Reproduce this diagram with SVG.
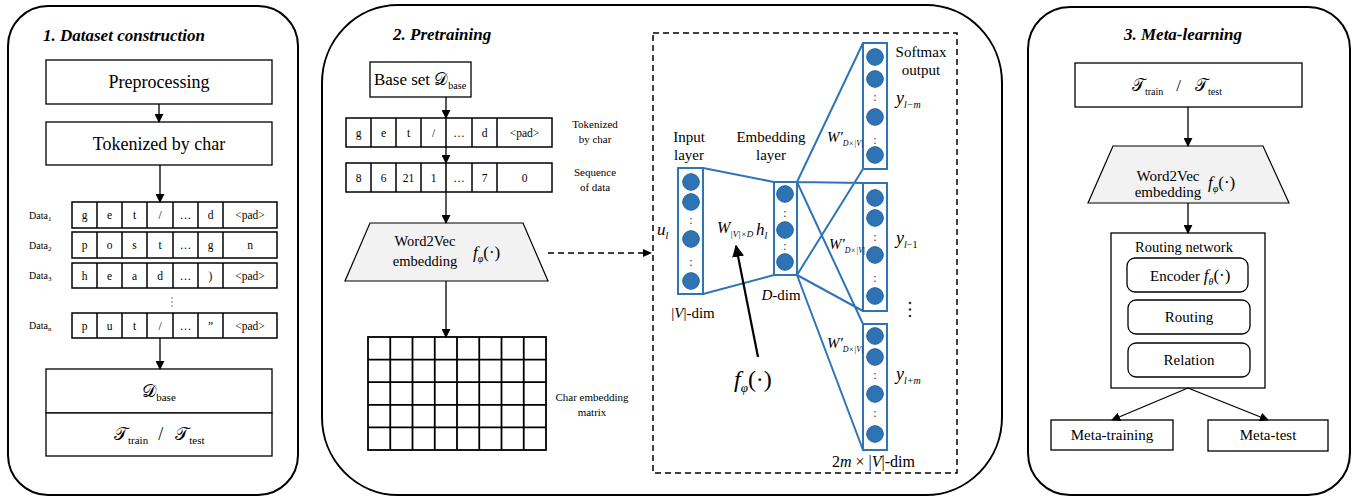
<svg xmlns="http://www.w3.org/2000/svg" width="1353" height="498" viewBox="0 0 1353 498" font-family="'Liberation Serif', 'Times New Roman', 'DejaVu Serif', serif">
<defs>
  <marker id="ah" viewBox="0 0 10 10" refX="9" refY="5" markerWidth="9" markerHeight="9" markerUnits="userSpaceOnUse" orient="auto">
    <path d="M0,0 L10,5 L0,10 z" fill="#000"/>
  </marker>
  <marker id="ahBig" viewBox="0 0 10 10" refX="9" refY="5" markerWidth="12" markerHeight="12" markerUnits="userSpaceOnUse" orient="auto">
    <path d="M0,0 L10,5 L0,10 z" fill="#000"/>
  </marker>
  <style>
    text{fill:#000}
    .panel{fill:#fff;stroke:#000;stroke-width:2}
    .box{fill:#fff;stroke:#000;stroke-width:1.3}
    .rbox{fill:#fff;stroke:#000;stroke-width:1.3}
    .trap{fill:#f2f2f2;stroke:#000;stroke-width:1.2}
    .cell{fill:#fff;stroke:#000;stroke-width:1.5}
    .sep{stroke:#000;stroke-width:1.5}
    .grid{stroke:#000;stroke-width:1.8;fill:none}
    .title{font-size:17px;font-weight:bold;font-style:italic}
    .it{font-style:italic}
    .mid{text-anchor:middle}
    .tok{font-size:11.5px;text-anchor:middle}
    .lbl{font-size:10px}
    .note{font-size:11px;text-anchor:middle}
    .nn{fill:none;stroke:#2e75b6;stroke-width:2}
    .node{fill:#2e74b5;stroke:#1f5f9a;stroke-width:1}
    .dots{font-size:12px;text-anchor:middle;fill:#333}
    .arrow{stroke:#000;stroke-width:1.3;fill:none;marker-end:url(#ah)}
    .dash{stroke:#000;stroke-width:1.5;fill:none;stroke-dasharray:6 4}
  </style>
</defs>

<!-- ===== Panel 1: dataset construction ===== -->
<g id="panel-dataset">
  <rect class="panel" x="8" y="6" width="290" height="489" rx="40" ry="40"/>
  <text class="title" x="43" y="41">1. Dataset construction</text>
</g>
<g id="preprocessing">
  <rect class="box" x="46" y="60" width="226" height="44"/>
  <text class="mid" x="159" y="88" font-size="18">Preprocessing</text>
</g>
<g id="tokenized">
  <rect class="box" x="46" y="122" width="226" height="43"/>
  <text class="mid" x="159" y="150" font-size="18">Tokenized by char</text>
</g>
<g id="data-rows">
  <g id="data1">
    <text class="lbl" x="29" y="219">Data<tspan font-size="7" dy="2">1</tspan></text>
    <rect class="cell" x="72" y="202" width="205" height="26"/>
    <path class="sep" d="M97,202V228M122,202V228M147,202V228M173,202V228M198,202V228M223,202V228"/>
    <text class="tok" y="219"><tspan x="84.5">g</tspan><tspan x="109.5">e</tspan><tspan x="134.5">t</tspan><tspan x="160">/</tspan><tspan x="185.5">…</tspan><tspan x="210.5">d</tspan><tspan x="250">&lt;pad&gt;</tspan></text>
  </g>
  <g id="data2">
    <text class="lbl" x="29" y="249">Data<tspan font-size="7" dy="2">2</tspan></text>
    <rect class="cell" x="72" y="232" width="205" height="26"/>
    <path class="sep" d="M97,232V258M122,232V258M147,232V258M173,232V258M198,232V258M223,232V258"/>
    <text class="tok" y="249"><tspan x="84.5">p</tspan><tspan x="109.5">o</tspan><tspan x="134.5">s</tspan><tspan x="160">t</tspan><tspan x="185.5">…</tspan><tspan x="210.5">g</tspan><tspan x="250">n</tspan></text>
  </g>
  <g id="data3">
    <text class="lbl" x="29" y="279">Data<tspan font-size="7" dy="2">3</tspan></text>
    <rect class="cell" x="72" y="263" width="205" height="25"/>
    <path class="sep" d="M97,263V288M122,263V288M147,263V288M173,263V288M198,263V288M223,263V288"/>
    <text class="tok" y="280"><tspan x="84.5">h</tspan><tspan x="109.5">e</tspan><tspan x="134.5">a</tspan><tspan x="160">d</tspan><tspan x="185.5">…</tspan><tspan x="210.5">)</tspan><tspan x="250">&lt;pad&gt;</tspan></text>
  </g>
  <g id="data-gap" fill="#999">
    <circle cx="172" cy="298" r="0.9"/><circle cx="172" cy="302" r="0.9"/><circle cx="172" cy="306" r="0.9"/>
  </g>
  <g id="datan">
    <text class="lbl" x="29" y="329">Data<tspan font-size="7" dy="2">n</tspan></text>
    <rect class="cell" x="72" y="313" width="205" height="25"/>
    <path class="sep" d="M97,313V338M122,313V338M147,313V338M173,313V338M198,313V338M223,313V338"/>
    <text class="tok" y="330"><tspan x="84.5">p</tspan><tspan x="109.5">u</tspan><tspan x="134.5">t</tspan><tspan x="160">/</tspan><tspan x="185.5">…</tspan><tspan x="210.5">”</tspan><tspan x="250">&lt;pad&gt;</tspan></text>
  </g>
</g>
<g id="dbase-split">
  <rect class="box" x="46" y="369" width="226" height="44"/>
  <text class="mid" x="159" y="397" font-size="18">𝒟<tspan font-size="11" dy="4">base</tspan></text>
  <rect class="box" x="46" y="413" width="226" height="43"/>
  <text x="114" y="440" font-size="18">𝒯<tspan font-size="11" dy="4">train</tspan><tspan dx="10" dy="-4">/</tspan><tspan dx="12">𝒯</tspan><tspan font-size="11" dy="4">test</tspan></text>
</g>

<!-- ===== Panel 2: pretraining ===== -->
<g id="panel-pretraining">
  <rect class="panel" x="322" y="5" width="680" height="490" rx="76" ry="78"/>
  <text class="title" x="393" y="40">2. Pretraining</text>
</g>
<g id="base-set">
  <rect class="box" x="370" y="62" width="101" height="35"/>
  <text class="mid" x="420" y="85" font-size="17">Base set 𝒟<tspan font-size="10" dy="4">base</tspan></text>
</g>
<g id="token-row">
  <rect class="cell" x="346" y="118" width="206" height="29"/>
  <path class="sep" d="M371,118V147M396,118V147M421,118V147M446,118V147M472,118V147M497,118V147"/>
  <text class="tok" y="137"><tspan x="358.5">g</tspan><tspan x="383.5">e</tspan><tspan x="408.5">t</tspan><tspan x="433.5">/</tspan><tspan x="459">…</tspan><tspan x="484.5">d</tspan><tspan x="524.5">&lt;pad&gt;</tspan></text>
  <text class="note" x="595" y="128">Tokenized</text>
  <text class="note" x="595" y="143">by char</text>
</g>
<g id="sequence-row">
  <rect class="cell" x="346" y="163" width="206" height="29"/>
  <path class="sep" d="M371,163V192M396,163V192M421,163V192M446,163V192M472,163V192M497,163V192"/>
  <text class="tok" y="182"><tspan x="358.5">8</tspan><tspan x="383.5">6</tspan><tspan x="408.5">21</tspan><tspan x="433.5">1</tspan><tspan x="459">…</tspan><tspan x="484.5">7</tspan><tspan x="524.5">0</tspan></text>
  <text class="note" x="595" y="176">Sequence</text>
  <text class="note" x="595" y="191">of data</text>
</g>
<g id="word2vec-pre">
  <polygon class="trap" points="370,223 523,223 548,281 345,281"/>
  <text class="mid" x="425" y="246" font-size="14.5">Word2Vec</text>
  <text class="mid" x="425" y="266" font-size="14.5">embedding</text>
  <text x="473" y="258" font-size="17"><tspan class="it">f</tspan><tspan class="it" font-size="10" dy="4">φ</tspan><tspan dy="-4">(·)</tspan></text>
</g>
<g id="char-matrix">
  <rect class="grid" x="368" y="337" width="178" height="113"/>
  <path class="grid" d="M390.25,337V450M412.5,337V450M434.75,337V450M457,337V450M479.25,337V450M501.5,337V450M523.75,337V450M368,359.6H546M368,382.2H546M368,404.8H546M368,427.4H546"/>
  <text class="note" x="592" y="401">Char embedding</text>
  <text class="note" x="592" y="416">matrix</text>
</g>

<!-- Word2Vec skip-gram detail -->
<g id="skipgram">
  <rect class="dash" x="653" y="33" width="304" height="440"/>
  <g id="input-layer">
    <rect class="nn" x="678" y="168" width="25" height="126"/>
    <circle class="node" cx="691" cy="182" r="8.3"/>
    <circle class="node" cx="691" cy="202" r="8.3"/>
    <text class="dots" x="691" y="224">:</text>
    <circle class="node" cx="691" cy="239" r="8.3"/>
    <text class="dots" x="691" y="266">:</text>
    <circle class="node" cx="691" cy="281" r="8.3"/>
    <text class="mid" x="689" y="142" font-size="15">Input</text>
    <text class="mid" x="689" y="160" font-size="15">layer</text>
    <text x="657" y="235" font-size="17" class="it">u<tspan font-size="10" dy="4">l</tspan></text>
    <text class="mid" x="693" y="318" font-size="15">|<tspan class="it">V</tspan>|-dim</text>
  </g>
  <g id="embedding-layer">
    <rect class="nn" x="774" y="182" width="23" height="93"/>
    <circle class="node" cx="785" cy="194" r="8.3"/>
    <text class="dots" x="785" y="217">:</text>
    <circle class="node" cx="785" cy="230" r="8.3"/>
    <text class="dots" x="785" y="250">:</text>
    <circle class="node" cx="785" cy="262" r="8.3"/>
    <text class="mid" x="771" y="142" font-size="15">Embedding</text>
    <text class="mid" x="771" y="160" font-size="15">layer</text>
    <text x="756" y="235" font-size="17" class="it">h<tspan font-size="10" dy="4">l</tspan></text>
    <text class="mid" x="781" y="300" font-size="15"><tspan class="it">D</tspan>-dim</text>
    <text x="717" y="233" font-size="16" class="it">W<tspan font-size="9" dy="4">|V|×D</tspan></text>
  </g>
  <g id="output-1">
    <rect class="nn" x="863" y="43" width="24" height="126"/>
    <circle class="node" cx="875" cy="57" r="8.3"/>
    <circle class="node" cx="875" cy="79" r="8.3"/>
    <text class="dots" x="875" y="101">:</text>
    <circle class="node" cx="875" cy="117" r="8.3"/>
    <text class="dots" x="875" y="144">:</text>
    <circle class="node" cx="875" cy="155" r="8.3"/>
    <text class="mid" x="921" y="57" font-size="15">Softmax</text>
    <text class="mid" x="921" y="75" font-size="15">output</text>
    <text x="896" y="104" font-size="18" class="it">y<tspan font-size="10" dy="4">l−m</tspan></text>
    <text x="827" y="142" font-size="15" class="it">W′<tspan font-size="8" dy="4">D×|V|</tspan></text>
  </g>
  <g id="output-2">
    <rect class="nn" x="863" y="183" width="24" height="128"/>
    <circle class="node" cx="875" cy="198" r="8.3"/>
    <circle class="node" cx="875" cy="218" r="8.3"/>
    <text class="dots" x="875" y="241">:</text>
    <circle class="node" cx="875" cy="255" r="8.3"/>
    <text class="dots" x="875" y="282">:</text>
    <circle class="node" cx="875" cy="296" r="8.3"/>
    <text x="896" y="244" font-size="18" class="it">y<tspan font-size="10" dy="4">l</tspan><tspan font-size="10" font-style="normal">−1</tspan></text>
    <text x="829" y="249" font-size="15" class="it">W′<tspan font-size="8" dy="4">D×|V|</tspan></text>
  </g>
  <g id="output-gap" fill="#333">
    <circle cx="910" cy="303" r="1.3"/><circle cx="910" cy="309.5" r="1.3"/><circle cx="910" cy="316" r="1.3"/>
  </g>
  <g id="output-3">
    <rect class="nn" x="863" y="324" width="24" height="126"/>
    <circle class="node" cx="875" cy="336" r="8.3"/>
    <circle class="node" cx="875" cy="357" r="8.3"/>
    <text class="dots" x="875" y="379">:</text>
    <circle class="node" cx="875" cy="394" r="8.3"/>
    <text class="dots" x="875" y="417">:</text>
    <circle class="node" cx="875" cy="434" r="8.3"/>
    <text x="896" y="380" font-size="18" class="it">y<tspan font-size="10" dy="4">l+m</tspan></text>
    <text x="827" y="348" font-size="15" class="it">W′<tspan font-size="8" dy="4">D×|V|</tspan></text>
    <text x="832" y="467" font-size="16">2<tspan class="it">m</tspan> × |<tspan class="it">V</tspan>|-dim</text>
  </g>
  <text id="f-phi-label" x="734" y="387" font-size="24"><tspan class="it">f</tspan><tspan class="it" font-size="13" dy="5">φ</tspan><tspan dy="-5">(·)</tspan></text>
</g>

<!-- ===== Panel 3: meta-learning ===== -->
<g id="panel-meta">
  <rect class="panel" x="1028" y="7" width="322" height="488" rx="42" ry="42"/>
  <text class="title mid" x="1183" y="40">3. Meta-learning</text>
</g>
<g id="task-split">
  <rect class="box" x="1075" y="63" width="227" height="44"/>
  <text x="1132" y="91" font-size="17">𝒯<tspan font-size="10" dy="4">train</tspan><tspan dx="13" dy="-4">/</tspan><tspan dx="14">𝒯</tspan><tspan font-size="10" dy="4">test</tspan></text>
</g>
<g id="word2vec-meta">
  <polygon class="trap" points="1113,146 1263,146 1289,203 1088,203"/>
  <text class="mid" x="1168" y="181" font-size="15">Word2Vec</text>
  <text class="mid" x="1168" y="197" font-size="15">embedding</text>
  <text x="1208" y="188" font-size="17"><tspan class="it">f</tspan><tspan class="it" font-size="10" dy="4">φ</tspan><tspan dy="-4">(·)</tspan></text>
</g>
<g id="routing-network">
  <rect class="box" x="1111" y="233" width="154" height="155"/>
  <text class="mid" x="1184" y="252" font-size="14.5">Routing network</text>
  <rect class="rbox" x="1127" y="258" width="121" height="34" rx="8"/>
  <text x="1150" y="281" font-size="15">Encoder <tspan class="it" font-size="17">f</tspan><tspan class="it" font-size="10" dy="4">θ</tspan><tspan dy="-4" font-size="17">(·)</tspan></text>
  <rect class="rbox" x="1128" y="300" width="122" height="34" rx="8"/>
  <text class="mid" x="1189" y="322" font-size="15">Routing</text>
  <rect class="rbox" x="1128" y="343" width="122" height="34" rx="8"/>
  <text class="mid" x="1189" y="365" font-size="15">Relation</text>
</g>
<g id="meta-training">
  <rect class="box" x="1051" y="420" width="122" height="30"/>
  <text class="mid" x="1112" y="440" font-size="15">Meta-training</text>
</g>
<g id="meta-test">
  <rect class="box" x="1208" y="420" width="120" height="31"/>
  <text class="mid" x="1268" y="440" font-size="15">Meta-test</text>
</g>

<!-- ===== Connectors ===== -->
<g id="connectors">
  <line class="arrow" x1="159" y1="104" x2="159" y2="122"/>
  <line class="arrow" x1="160" y1="165" x2="160" y2="202"/>
  <line class="arrow" x1="160" y1="338" x2="160" y2="369"/>
  <line class="arrow" x1="446" y1="97" x2="446" y2="118"/>
  <line class="arrow" x1="446" y1="147" x2="446" y2="163"/>
  <line class="arrow" x1="446" y1="192" x2="446" y2="223"/>
  <line class="arrow" x1="446" y1="281" x2="446" y2="337"/>
  <line class="dash" x1="548" y1="253" x2="645" y2="253"/>
  <path d="M643,249 L652,253 L643,257 z" fill="#000"/>
  <path class="nn" d="M703,168 L774,182 M703,294 L774,275 M797,182 L863,43 M797,182 L863,183 M797,182 L863,324 M797,275 L863,169 M797,275 L863,311 M797,275 L863,450"/>
  <line x1="758" y1="357" x2="736" y2="246" stroke="#000" stroke-width="2.2" marker-end="url(#ahBig)"/>
  <line class="arrow" x1="1188" y1="107" x2="1188" y2="146"/>
  <line class="arrow" x1="1188" y1="203" x2="1188" y2="233"/>
  <line class="arrow" x1="1188" y1="388" x2="1112" y2="420"/>
  <line class="arrow" x1="1188" y1="388" x2="1268" y2="420"/>
</g>
</svg>
